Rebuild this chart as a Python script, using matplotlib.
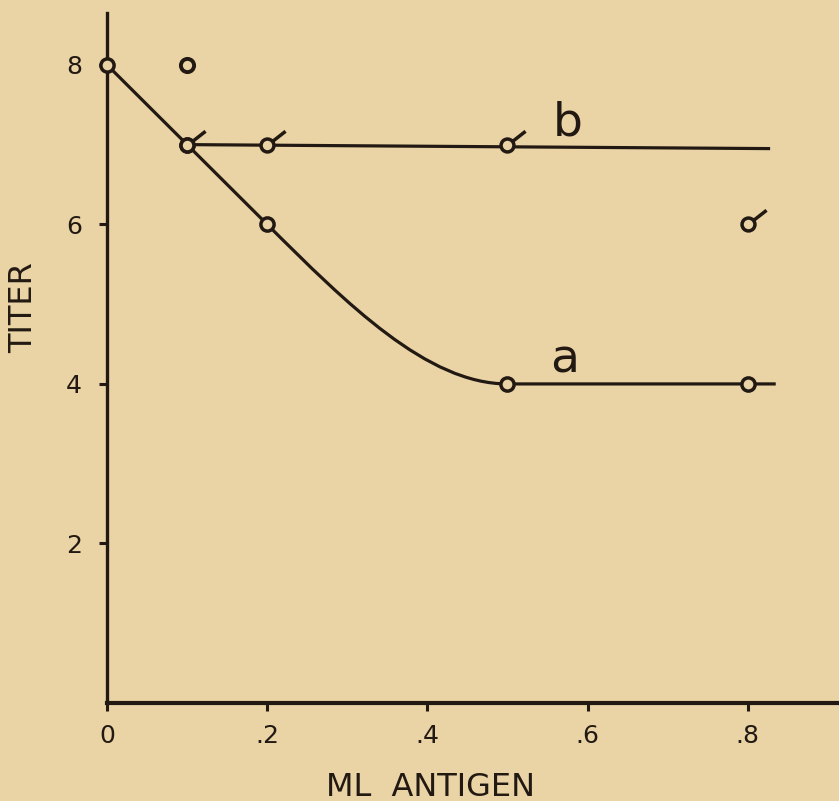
import numpy as np
import matplotlib
matplotlib.use("Agg")
import matplotlib.pyplot as plt
from matplotlib.path import Path
from matplotlib.patches import PathPatch

# --- data ---
# curve a: straight from 0 to .2, then a smooth bend into 4, flat to the end
a_x = [0.0, 0.1, 0.2, 0.5, 0.8]
a_y = [8, 7, 6, 4, 4]
a_bend_ctrl_x = [0.3, 0.4]       # bezier handles between .2 and .5
a_bend_ctrl_y = [5.0, 4.0]
a_line_end = (0.835, 4.0)

# curve b: flat line at 7
b_x = [0.1, 0.2, 0.5, 0.8]
b_y = [7, 7, 7, 6]
b_line_x = [0.1, 0.828]
b_line_y = [7.0, 6.95]

# stray open circle at top
extra_x = [0.1]
extra_y = [8]

x_ticks = [0.0, 0.2, 0.4, 0.6, 0.8]
x_tick_labels = ["0", ".2", ".4", ".6", ".8"]
y_ticks = [2, 4, 6, 8]
y_tick_labels = ["2", "4", "6", "8"]

BG = "#EAD4A6"
INK = "#221912"

W, H = 839, 801
fig = plt.figure(figsize=(W / 100, H / 100), dpi=100, facecolor=BG)
ax = fig.add_axes([107 / W, (H - 703) / H, (W - 107) / W, (703 - 13) / H])
ax.set_facecolor(BG)
ax.set_xlim(0, 0.914)
ax.set_ylim(0, 8.65)

for side in ("top", "right"):
    ax.spines[side].set_visible(False)
ax.spines["left"].set_color(INK)
ax.spines["left"].set_linewidth(2.4)
ax.spines["bottom"].set_color(INK)
ax.spines["bottom"].set_linewidth(3.0)

ax.set_xticks(x_ticks)
ax.set_xticklabels(x_tick_labels)
ax.set_yticks(y_ticks)
ax.set_yticklabels(y_tick_labels)
ax.tick_params(axis="both", direction="out", length=6, width=2.2, color=INK,
               labelcolor=INK, labelsize=18)
ax.tick_params(axis="x", pad=9)
ax.tick_params(axis="y", pad=12)

# curve a as a path: straight pieces plus one cubic bend
verts = [(a_x[0], a_y[0]), (a_x[1], a_y[1]), (a_x[2], a_y[2]),
         (a_bend_ctrl_x[0], a_bend_ctrl_y[0]), (a_bend_ctrl_x[1], a_bend_ctrl_y[1]),
         (a_x[3], a_y[3]), a_line_end]
codes = [Path.MOVETO, Path.LINETO, Path.LINETO,
         Path.CURVE4, Path.CURVE4, Path.CURVE4, Path.LINETO]
ax.add_patch(PathPatch(Path(verts, codes), fill=False, edgecolor=INK,
                       linewidth=2.3, capstyle="butt", zorder=2))

ax.plot(b_line_x, b_line_y, color=INK, linewidth=2.3, solid_capstyle="butt", zorder=2)

# open circle with a little tail for the b points
tail = Path([[0.78, 0.62], [2.8, 2.2]], [Path.MOVETO, Path.LINETO])
b_marker = Path.make_compound_path(Path.unit_circle(), tail)

ax.plot(a_x, a_y, linestyle="none", marker="o", markersize=9.5,
        markerfacecolor=BG, markeredgecolor=INK, markeredgewidth=2.5,
        zorder=3, clip_on=False)
ax.plot(extra_x, extra_y, linestyle="none", marker="o", markersize=9.5,
        markerfacecolor=BG, markeredgecolor=INK, markeredgewidth=2.8, zorder=3)
ax.plot(b_x, b_y, linestyle="none", marker=b_marker, markersize=26,
        markerfacecolor=BG, markeredgecolor=INK, markeredgewidth=2.5, zorder=4)

ax.text(0.571, 4.14, "a", fontsize=34, color=INK, ha="center", va="baseline")
ax.text(0.575, 7.12, "b", fontsize=34, color=INK, ha="center", va="baseline")

fig.text(24 / W, 1 - 308 / H, "TITER", rotation=90, ha="center", va="center",
         fontsize=23, color=INK)
fig.text(430 / W, 1 - 787 / H, "ML  ANTIGEN", ha="center", va="center",
         fontsize=23, color=INK)

fig.savefig("out.png", dpi=100, facecolor=BG)
